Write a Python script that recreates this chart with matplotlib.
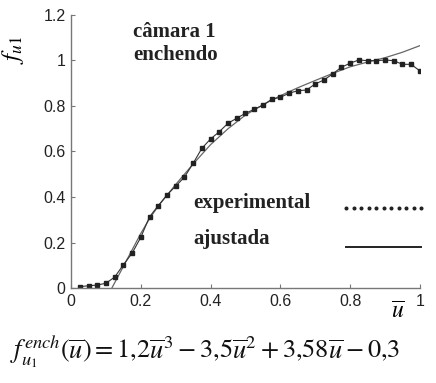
import matplotlib
matplotlib.use('Agg')
import matplotlib.pyplot as plt
from matplotlib.lines import Line2D

plt.rcParams['mathtext.fontset'] = 'stix'
plt.rcParams['font.family'] = ['Liberation Sans', 'DejaVu Sans']

# experimental points, u = 0.025 .. 1.0
u_exp = [0.025 * k for k in range(1, 41)]
f_exp = [0.006, 0.010, 0.013, 0.021, 0.048, 0.102, 0.153, 0.223, 0.313, 0.362,
         0.409, 0.448, 0.487, 0.548, 0.614, 0.655, 0.687, 0.724, 0.746, 0.768,
         0.785, 0.804, 0.829, 0.838, 0.856, 0.867, 0.870, 0.897, 0.914, 0.941,
         0.970, 0.988, 1.002, 0.999, 0.999, 1.002, 0.999, 0.983, 0.983, 0.954]

# fitted curve
u_fit = [0.117, 0.15, 0.2, 0.225, 0.25, 0.3, 0.35, 0.4, 0.45, 0.5, 0.55, 0.6,
         0.65, 0.7, 0.75, 0.8, 0.85, 0.9, 0.95, 1.0]
f_fit = [0.0, 0.095, 0.24, 0.305, 0.36, 0.455, 0.545, 0.63, 0.70, 0.76, 0.805,
         0.845, 0.88, 0.912, 0.943, 0.972, 0.993, 1.012, 1.036, 1.065]

xticks = [0, 0.2, 0.4, 0.6, 0.8, 1]
xlabels = ['0', '0.2', '0.4', '0.6', '0.8', '1']
yticks = [0, 0.2, 0.4, 0.6, 0.8, 1, 1.2]
ylabels = ['0', '0.2', '0.4', '0.6', '0.8', '1', '1.2']

fig = plt.figure(figsize=(4.36, 3.83), dpi=100)
ax = fig.add_axes([0.163, 0.248, 0.80, 0.713])

ax.plot(u_fit, f_fit, color='#666666', lw=0.9)
ax.plot(u_exp, f_exp, color='#333333', lw=0.8, marker='s', ms=2.2,
        mfc='#222222', mec='#222222')

ax.set_xlim(0, 1)
ax.set_ylim(0, 1.2)
ax.set_xticks(xticks)
ax.set_xticklabels(xlabels)
ax.set_yticks(yticks)
ax.set_yticklabels(ylabels)
for s in ['top', 'right']:
    ax.spines[s].set_visible(False)
for s in ['left', 'bottom']:
    ax.spines[s].set_color('#777777')
    ax.spines[s].set_linewidth(1.0)
ax.tick_params(direction='in', length=3, color='#777777', labelsize=11.5,
               labelcolor='#222222', pad=4)

ax.set_ylabel(r'$f_{u1}$', fontsize=18, rotation=90)
ax.yaxis.set_label_coords(-0.13, 0.872)
ax.text(0.937, -0.088, r'$\overline{u}$', transform=ax.transAxes,
        fontsize=17, ha='center', va='center')

serif = ['Liberation Serif', 'DejaVu Serif']
ax.text(0.178, 0.938, 'câmara 1', transform=ax.transAxes, family=serif,
        fontweight='bold', fontsize=15, va='center', ha='left', color='#222222')
ax.text(0.178, 0.853, 'enchendo', transform=ax.transAxes, family=serif,
        fontweight='bold', fontsize=15, va='center', ha='left', color='#222222')
ax.text(0.350, 0.311, 'experimental', transform=ax.transAxes, family=serif,
        fontweight='bold', fontsize=15, va='center', ha='left', color='#222222')
ax.text(0.350, 0.179, 'ajustada', transform=ax.transAxes, family=serif,
        fontweight='bold', fontsize=15, va='center', ha='left', color='#222222')

h_exp = Line2D([], [], ls='none', marker='o', ms=1.9, color='#222222')
h_fit = Line2D([], [], ls='-', lw=1.4, color='#222222')
leg = ax.legend([h_exp, h_fit], ['', ''], loc='center left',
                bbox_to_anchor=(0.777, 0.22), frameon=False, fontsize=10,
                numpoints=11, handlelength=6.0, handletextpad=0,
                borderpad=0, borderaxespad=0, labelspacing=1.8)
leg.set_clip_on(False)

fig.text(0.023, 0.081,
         r'$f_{u_1}^{ench}(\overline{u}) = 1{,}2\overline{u}^3 - 3{,}5\overline{u}^2'
         r' + 3{,}58\overline{u} - 0{,}3$',
         fontsize=19, ha='left', va='center', color='#111111')

fig.savefig('out.png', dpi=100)
